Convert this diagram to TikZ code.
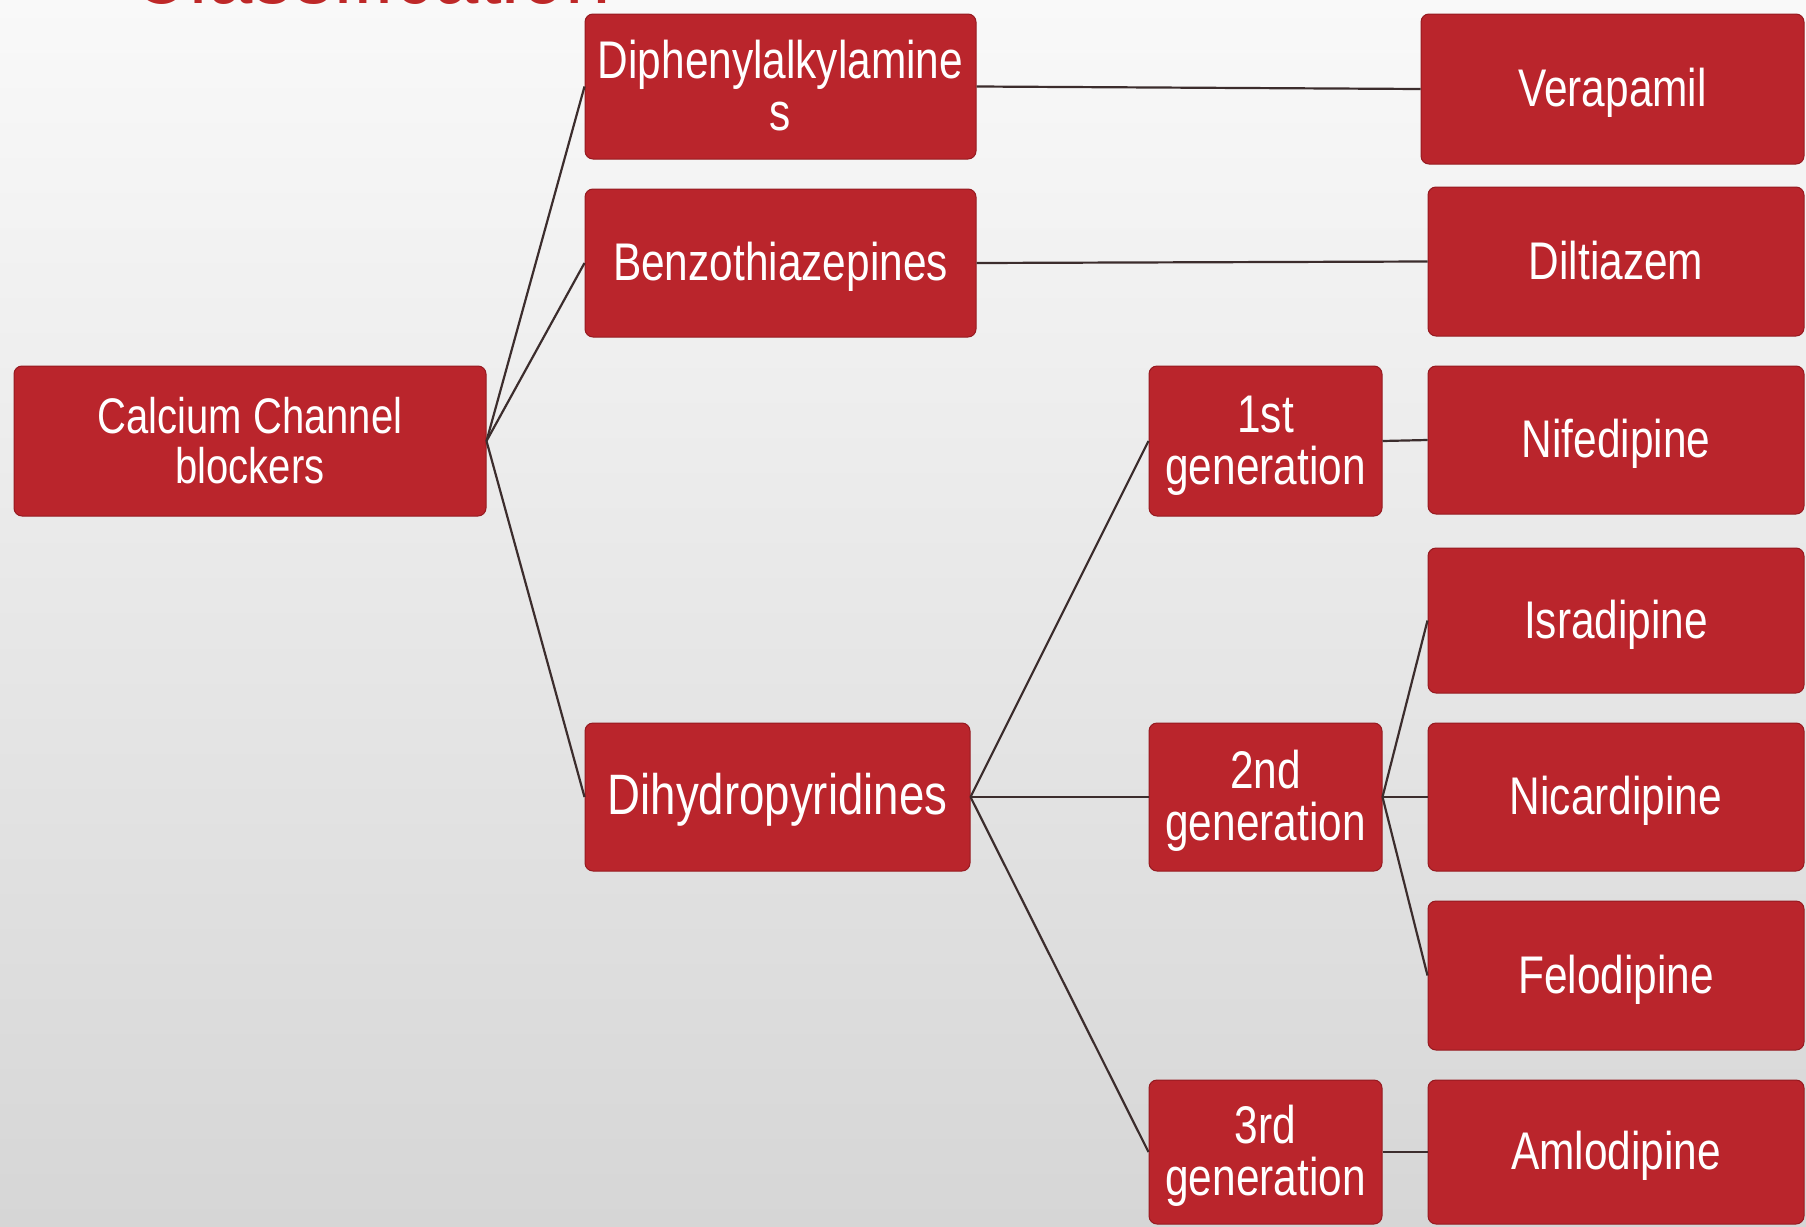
\documentclass[tikz,border=0pt]{standalone}
\usepackage{fontspec}
\setmainfont{Liberation Sans}[FakeStretch=0.8]
\definecolor{boxred}{RGB}{186,37,44}
\definecolor{boxedge}{RGB}{150,26,32}
\definecolor{linecol}{RGB}{60,45,45}
\definecolor{titlered}{RGB}{190,40,40}
\definecolor{bgtop}{RGB}{249,249,249}
\definecolor{bgbot}{RGB}{214,214,214}
\begin{document}
\begin{tikzpicture}[x=1pt,y=-1pt,
  box/.style={draw=boxedge, line width=1pt, fill=boxred, rounded corners=8pt,
    text=white, align=center, inner sep=0pt, text height=42pt, text depth=7pt,
    font=\fontsize{53}{52}\selectfont},
  twoline/.style={text height=94pt},
  link/.style={draw=linecol, line width=2.2pt}]
\useasboundingbox (0,0) rectangle (1806,1226);
\clip (0,0) rectangle (1806,1226);
\shade[top color=bgtop, bottom color=bgbot] (0,0) rectangle (1806,1226);
\node[anchor=base west, text=titlered, inner sep=0pt, font=\fontsize{102}{106}\selectfont] (title) at (130,3) {Classification};
% level 0
\node[box, text height=92pt, minimum width=472pt, minimum height=150pt, font=\fontsize{50}{50}\selectfont] (ccb) at (250,441) {Calcium Channel\\blockers};
% level 1
\node[box, twoline, minimum width=391pt, minimum height=145pt] (dip) at (780.5,86.5) {Diphenylalkylamine\\s};
\node[box, minimum width=391pt, minimum height=148pt] (ben) at (780.5,263) {Benzothiazepines};
\node[box, minimum width=385pt, minimum height=148pt, font=\fontsize{57}{56}\selectfont] (dhp) at (777.5,797) {Dihydropyridines};
% generations
\node[box, twoline, minimum width=233pt, minimum height=150pt] (g1) at (1265.5,441) {1st\\generation};
\node[box, twoline, minimum width=233pt, minimum height=148pt] (g2) at (1265.5,797) {2nd\\generation};
\node[box, twoline, minimum width=233pt, minimum height=144pt] (g3) at (1265.5,1152) {3rd\\generation};
% drugs
\node[box, minimum width=383pt, minimum height=150pt] (ver) at (1612.5,89) {Verapamil};
\node[box, minimum width=376pt, minimum height=149pt] (dil) at (1616,261.5) {Diltiazem};
\node[box, minimum width=376pt, minimum height=148pt] (nif) at (1616,440) {Nifedipine};
\node[box, minimum width=376pt, minimum height=145pt] (isr) at (1616,620.5) {Isradipine};
\node[box, minimum width=376pt, minimum height=148pt] (nic) at (1616,797) {Nicardipine};
\node[box, minimum width=376pt, minimum height=149pt] (fel) at (1616,975.5) {Felodipine};
\node[box, minimum width=376pt, minimum height=144pt] (aml) at (1616,1152) {Amlodipine};
% connectors
\draw[link] (ccb.east) -- (dip.west);
\draw[link] (ccb.east) -- (ben.west);
\draw[link] (ccb.east) -- (dhp.west);
\draw[link] (dip.east) -- (ver.west);
\draw[link] (ben.east) -- (dil.west);
\draw[link] (dhp.east) -- (g1.west);
\draw[link] (dhp.east) -- (g2.west);
\draw[link] (dhp.east) -- (g3.west);
\draw[link] (g1.east) -- (nif.west);
\draw[link] (g2.east) -- (isr.west);
\draw[link] (g2.east) -- (nic.west);
\draw[link] (g2.east) -- (fel.west);
\draw[link] (g3.east) -- (aml.west);
\end{tikzpicture}
\end{document}
